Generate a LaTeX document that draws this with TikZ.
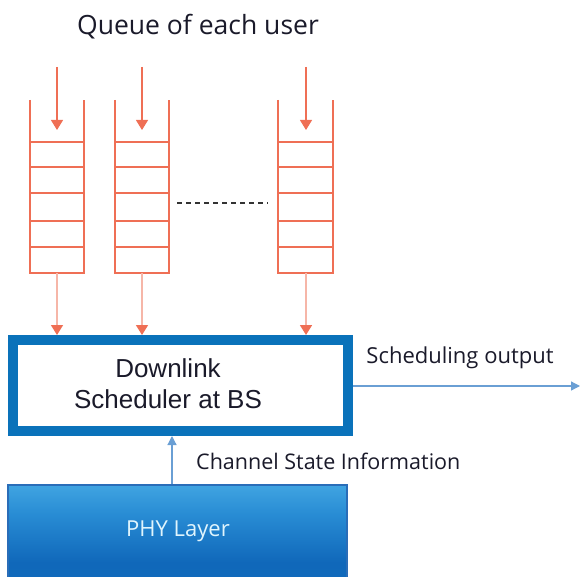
\documentclass[tikz,border=0pt]{standalone}
\usepackage{fontspec}
\setmainfont{Liberation Sans}
\newfontfamily\labelfont{Open Sans}
\usetikzlibrary{arrows.meta}
\definecolor{queuered}{HTML}{EF6F55}
\definecolor{queuepale}{HTML}{F6B6A8}
\definecolor{schedblue}{HTML}{0A72BA}
\definecolor{linkblue}{HTML}{6A9FD4}
\definecolor{phyedge}{HTML}{2A6DB8}
\definecolor{textdark}{HTML}{1A1A2A}
% vertical blend for the physical layer block (bottom to top)
\pgfdeclareverticalshading{physhade}{100bp}{
  color(0bp)=(rgb,255:red,14;green,110;blue,190);
  color(35bp)=(rgb,255:red,16;green,104;blue,186);
  color(60bp)=(rgb,255:red,40;green,140;blue,212);
  color(85bp)=(rgb,255:red,80;green,180;blue,234);
  color(100bp)=(rgb,255:red,98;green,198;blue,240)}
\tikzset{
  qwall/.style={draw=queuered, line width=1.8pt},
  qin/.style={draw=queuered, line width=1.2pt, -{Triangle[length=10pt,width=12pt]}},
  qout/.style={draw=queuepale, line width=1.6pt, -{Triangle[length=10pt,width=12pt,color=queuered]}},
  bluearrow/.style={draw=linkblue, line width=1.2pt, -{Triangle[length=9pt,width=9pt]}},
  lbl/.style={font=\labelfont\fontsize{21.5}{25}\selectfont, text=textdark, inner sep=0pt},
}
\begin{document}
\begin{tikzpicture}[x=1pt,y=-1pt]
\useasboundingbox (0,0) rectangle (580,577);
\clip (0,0) rectangle (580,577);

% title
\node[lbl, font=\labelfont\fontsize{26.5}{30}\selectfont] (title) at (198,27) {Queue of each user};

% the three user queues: open-top stacks of five slots
\foreach \name/\l/\r/\ax in {qa/30/84/57, qb/115/169/142, qc/278/333/306}{
  \draw[qwall] (\l,100) -- (\l,273) -- (\r,273) -- (\r,100);
  \foreach \yy in {142,167,193,221,247}
    \draw[qwall] (\l,\yy) -- (\r,\yy);
  \coordinate (\name-in) at (\ax,67);
  \coordinate (\name-top) at (\ax,130);
  \coordinate (\name-bot) at (\ax,273);
  \draw[qin] (\name-in) -- (\name-top);
}
\coordinate (dots-l) at (177,203);
\coordinate (dots-r) at (268,203);
\draw[black!80, line width=1.3pt, dash pattern=on 5pt off 4pt] (dots-l) -- (dots-r);

% scheduler
\node[draw=schedblue, line width=10pt, fill=white, minimum width=335pt, minimum height=91pt,
      inner sep=0pt, outer sep=5pt] (sched) at (180.5,385.5) {};
\node[font=\fontsize{26}{31}\selectfont, text=textdark, align=center, inner sep=0pt] (schedtxt)
  at (168,384) {Downlink\\Scheduler at BS};

\foreach \name in {qa,qb,qc}
  \draw[qout] (\name-bot) -- (\name-bot |- sched.north);

% physical layer block
\node[draw=phyedge, line width=1.2pt, shading=physhade, minimum width=339pt, minimum height=97pt,
      inner sep=0pt] (phy) at (177.5,533.5) {};
\node[font=\labelfont\fontsize{22}{26}\selectfont, text=white!88!cyan, inner sep=0pt] (phytxt)
  at (178,531) {PHY Layer};

% channel state information feedback
\coordinate (csi) at (172,0);
\draw[bluearrow] (csi |- phy.north) -- (csi |- sched.south);
\node[lbl, anchor=west] (csilbl) at (196,461) {Channel State Information};

% scheduling output
\coordinate (out) at (580,386);
\draw[bluearrow] (sched.east |- out) -- (out);
\node[lbl, font=\labelfont\fontsize{22}{26}\selectfont] (outlbl) at (460,358) {Scheduling output};
\end{tikzpicture}
\end{document}
